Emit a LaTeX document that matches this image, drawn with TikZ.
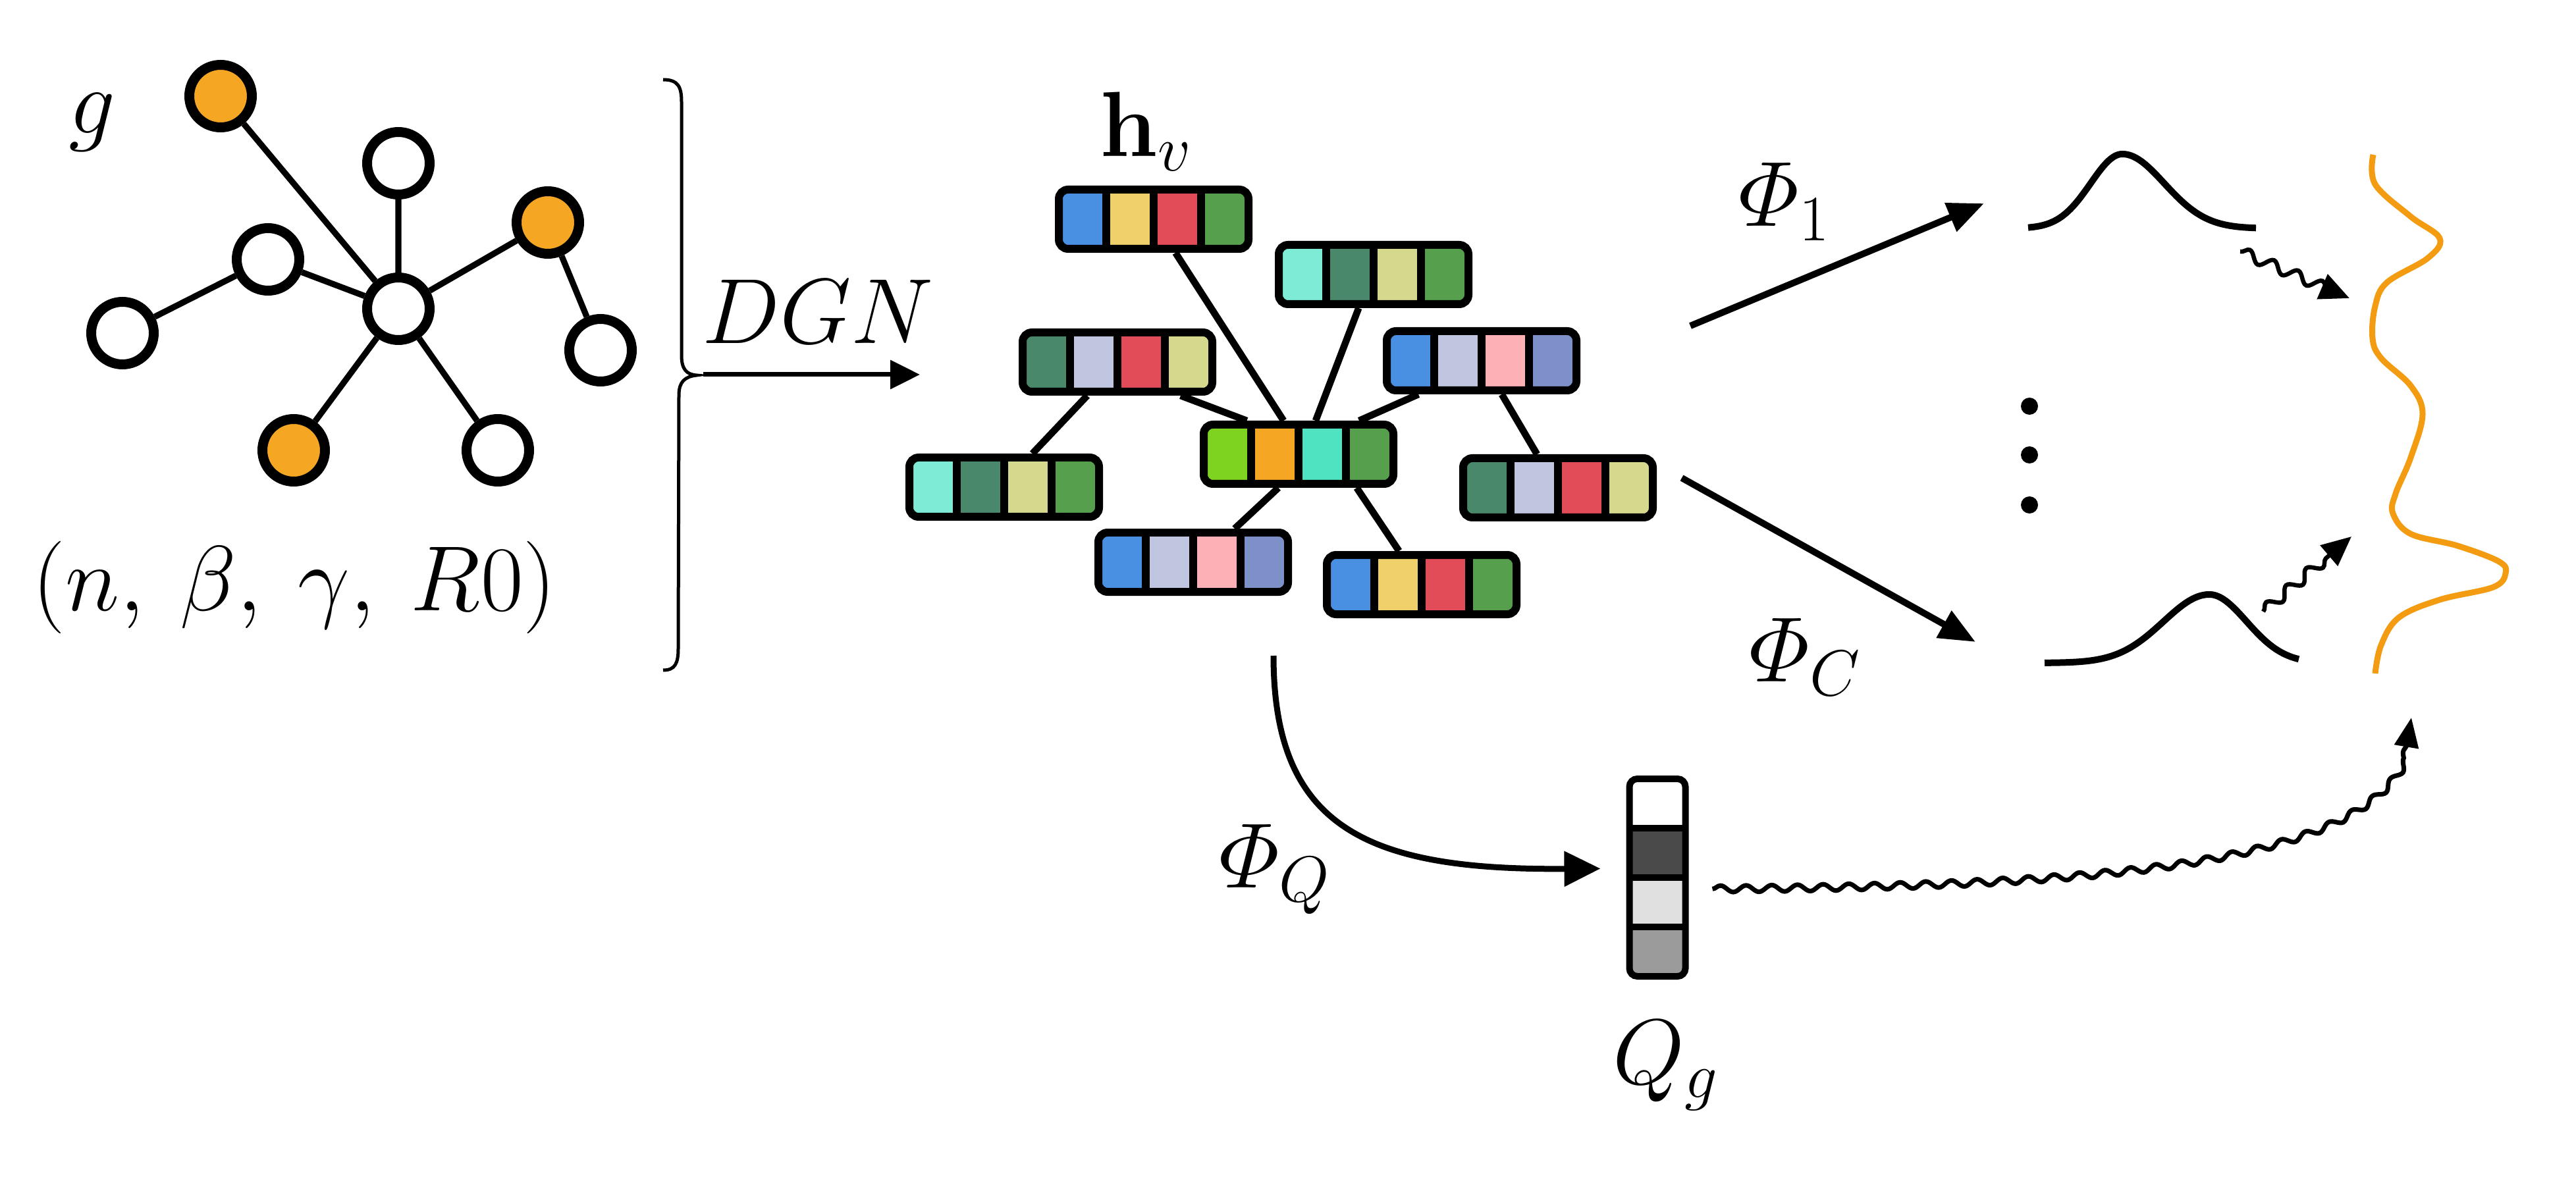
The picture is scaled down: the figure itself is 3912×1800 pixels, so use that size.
\RequirePackage{fix-cm}
\documentclass[tikz,border=0pt]{standalone}
\usepackage{amsmath}
\usetikzlibrary{arrows.meta,decorations.pathmorphing}
\definecolor{cblue}{RGB}{74,144,226}
\definecolor{cyellow}{RGB}{239,208,106}
\definecolor{cred}{RGB}{226,75,88}
\definecolor{cgreen}{RGB}{85,159,77}
\definecolor{caqua}{RGB}{125,235,213}
\definecolor{cteal}{RGB}{74,136,108}
\definecolor{colive}{RGB}{213,217,141}
\definecolor{clav}{RGB}{193,198,224}
\definecolor{cpink}{RGB}{253,176,182}
\definecolor{cperi}{RGB}{125,144,200}
\definecolor{clime}{RGB}{126,211,33}
\definecolor{corange}{RGB}{245,166,35}
\definecolor{cturq}{RGB}{80,227,194}
\definecolor{cmix}{RGB}{243,156,18}
\definecolor{qdark}{RGB}{74,74,74}
\definecolor{qlight}{RGB}{224,224,224}
\definecolor{qmid}{RGB}{155,155,155}
\tikzset{
  gnode/.style={circle, draw=black, line width=1.5mm, minimum size=9.5mm, inner sep=0pt, fill=white},
  onode/.style={gnode, fill=corange},
  gedge/.style={line width=0.92mm},
  bedge/.style={line width=1.05mm},
  boxnode/.style={rectangle, draw=none, minimum width=30mm, minimum height=10.2mm, inner sep=0pt, outer sep=0pt},
  boxline/.style={line width=1.2mm, draw=black},
  qline/.style={line width=1.0mm, draw=black},
  lbl/.style={anchor=base, inner sep=0pt},
  phiarrow/.style={line width=1mm, -{Triangle[length=5.5mm,width=4.5mm]}},
  dgnarrow/.style={line width=0.7mm, -{Triangle[length=4.5mm,width=4.3mm]}},
  gausscurve/.style={line width=1mm, line cap=butt},
  wavyshort/.style={line width=0.65mm, -{Triangle[length=4.5mm,width=4mm]}, decorate,
     decoration={snake, amplitude=0.8mm, segment length=4mm, post length=3.5mm}},
  wavylong/.style={line width=0.7mm, -{Triangle[length=4.5mm,width=3.6mm]}, decorate,
     decoration={snake, amplitude=0.5mm, segment length=3.9mm, post length=4mm}},
}
\newcommand\featbox[5]{%
  \begin{scope}[shift={(#1.center)}]
    \begin{scope}
      \clip[rounded corners=1.4mm] (-144,-45) rectangle (144,45);
      \fill[#2] (-144,-45) rectangle (-72,45);
      \fill[#3] (-72,-45) rectangle (0,45);
      \fill[#4] (0,-45) rectangle (72,45);
      \fill[#5] (72,-45) rectangle (144,45);
    \end{scope}
    \draw[boxline] (-72,-45) -- (-72,45) (0,-45) -- (0,45) (72,-45) -- (72,45);
    \draw[boxline, rounded corners=1.4mm] (-144,-45) rectangle (144,45);
  \end{scope}}
\begin{document}
\begin{tikzpicture}[x=0.1mm, y=-0.1mm, font=\fontsize{40}{48}\selectfont]
\useasboundingbox (0,0) rectangle (3912,1800);

% ---------- input graph ----------
\node[onode] (o1) at (335,146) {};
\node[gnode] (t)  at (605,248) {};
\node[onode] (o2) at (832,338) {};
\node[gnode] (lm) at (407,394) {};
\node[gnode] (c)  at (605,469) {};
\node[gnode] (fl) at (186,506) {};
\node[gnode] (fr) at (912,532) {};
\node[onode] (o3) at (446,684) {};
\node[gnode] (br) at (756,684) {};
\draw[gedge] (o1) -- (c) (t) -- (c) (o2) -- (c) (lm) -- (c) (fl) -- (lm)
             (o2) -- (fr) (o3) -- (c) (br) -- (c);
\node[lbl] (glbl) at (140,203) {$g$};
\node[lbl] (params) at (447,927) {$(n,\:\beta,\:\gamma,\:R0)$};

% ---------- brace and DGN arrow ----------
\draw[line width=0.5mm] (1007,121) .. controls (1030,121) and (1035,132) .. (1035,155)
   -- (1035,540) .. controls (1035,560) and (1042,569) .. (1058,570)
   .. controls (1040,572) and (1031,580) .. (1031,600)
   -- (1030,985) .. controls (1030,1008) and (1025,1018) .. (1007,1018);
\coordinate (bt) at (1068,569);
\coordinate (dgnend) at (1397,569);
\draw[dgnarrow] (bt) -- (dgnend);
\node[lbl] (dgn) at (1242,522) {$DGN$};

% ---------- node embeddings ----------
\node[boxnode] (A) at (1752,333) {};
\node[boxnode] (B) at (2086,417) {};
\node[boxnode] (C) at (1697,550) {};
\node[boxnode] (D) at (2250,548) {};
\node[boxnode] (E) at (1972,690) {};
\node[boxnode] (F) at (1525,740) {};
\node[boxnode] (G) at (2366,741) {};
\node[boxnode] (H) at (1812,854) {};
\node[boxnode] (I) at (2159,888) {};
\draw[bedge] (A.-57) -- (E.114);
\draw[bedge] (B.246.5) -- (E.63);
\draw[bedge] (C.-28.4) -- (E.147);
\draw[bedge] (C.-132) -- (F.50);
\draw[bedge] (D.208.4) -- (E.29);
\draw[bedge] (D.-59) -- (G.122);
\draw[bedge] (E.-121) -- (H.39.6);
\draw[bedge] (E.-30.3) -- (I.124);
\featbox{A}{cblue}{cyellow}{cred}{cgreen}
\featbox{B}{caqua}{cteal}{colive}{cgreen}
\featbox{C}{cteal}{clav}{cred}{colive}
\featbox{D}{cblue}{clav}{cpink}{cperi}
\featbox{E}{clime}{corange}{cturq}{cgreen}
\featbox{F}{caqua}{cteal}{colive}{cgreen}
\featbox{G}{cteal}{clav}{cred}{colive}
\featbox{H}{cblue}{clav}{cpink}{cperi}
\featbox{I}{cblue}{cyellow}{cred}{cgreen}
\node[lbl] (hv) at (1740,238) {$\mathbf{h}_v$};

% ---------- decoders ----------
\coordinate (p1s) at (2567,495);
\coordinate (p1e) at (3013,309);
\coordinate (pcs) at (2554,726);
\coordinate (pce) at (3000,975);
\draw[phiarrow] (p1s) -- (p1e);
\draw[phiarrow] (pcs) -- (pce);
\node[lbl] (phi1) at (2710,344) {$\varPhi_1$};
\node[lbl] (phic) at (2741,1035) {$\varPhi_C$};

% gaussians
\draw[gausscurve] plot[domain=3080:3223, samples=50] (\x,{347-113*exp(-((\x-3223)/68)*((\x-3223)/68))})
  -- plot[domain=3223:3426, samples=60] (\x,{347-113*exp(-((\x-3223)/90)*((\x-3223)/90))});
\draw[gausscurve] plot[domain=3105:3355, samples=60] (\x,{1007-104*exp(-((\x-3355)/98)*((\x-3355)/98))})
  -- plot[domain=3355:3491, samples=50] (\x,{1007-104*exp(-((\x-3355)/80)*((\x-3355)/80))});

% dots
\fill (3082,617) circle[radius=13];
\fill (3082,691) circle[radius=13];
\fill (3082,767) circle[radius=13];

% mixture curve
\draw[cmix, line width=0.9mm] plot[smooth, tension=0.6] coordinates {
  (3604,235) (3607,280) (3661,329) (3705,362) (3687,392) (3625,429) (3607,465)
  (3603,514) (3616,544) (3661,586) (3679,629) (3661,695) (3638,750) (3634,780)
  (3661,811) (3732,829) (3795,853) (3805,871) (3786,892) (3705,911) (3643,938)
  (3616,980) (3607,1023)};

% short wavy arrows
\coordinate (w1s) at (3402,382);
\coordinate (w1e) at (3568,453);
\coordinate (w2s) at (3437,929);
\coordinate (w2e) at (3571,815);
\draw[wavyshort] (w1s) -- (w1e);
\draw[wavyshort] (w2s) -- (w2e);

% ---------- Q_g ----------
\node[rectangle, draw=none, minimum width=9.5mm, minimum height=31mm, inner sep=0pt, outer sep=0pt] (Q) at (2517,1333) {};
\begin{scope}[shift={(Q.center)}]
  \begin{scope}
    \clip[rounded corners=1.2mm] (-42.5,-150) rectangle (42.5,150);
    \fill[white] (-42.5,-150) rectangle (42.5,-75);
    \fill[qdark] (-42.5,-75) rectangle (42.5,0);
    \fill[qlight] (-42.5,0) rectangle (42.5,75);
    \fill[qmid] (-42.5,75) rectangle (42.5,150);
  \end{scope}
  \draw[qline] (-42.5,-75) -- (42.5,-75) (-42.5,0) -- (42.5,0) (-42.5,75) -- (42.5,75);
  \draw[qline, rounded corners=1.2mm] (-42.5,-150) rectangle (42.5,150);
\end{scope}
\node[lbl] (qg) at (2530,1646) {$Q_g$};

\coordinate (qs) at (1934,996);
\draw[line width=0.9mm, -{Triangle[length=5.5mm,width=5.2mm]}] (qs) .. controls (1934,1260) and (2080,1322) .. ([xshift=-3.9mm]Q.164.5);
\node[lbl] (phiq) at (1936,1348) {$\varPhi_Q$};

\coordinate (mixin) at (3662,1090);
\draw[wavylong] ([xshift=3.6mm]Q.-20.5) .. controls (3300,1345) and (3650,1300) .. (mixin);
\end{tikzpicture}
\end{document}
